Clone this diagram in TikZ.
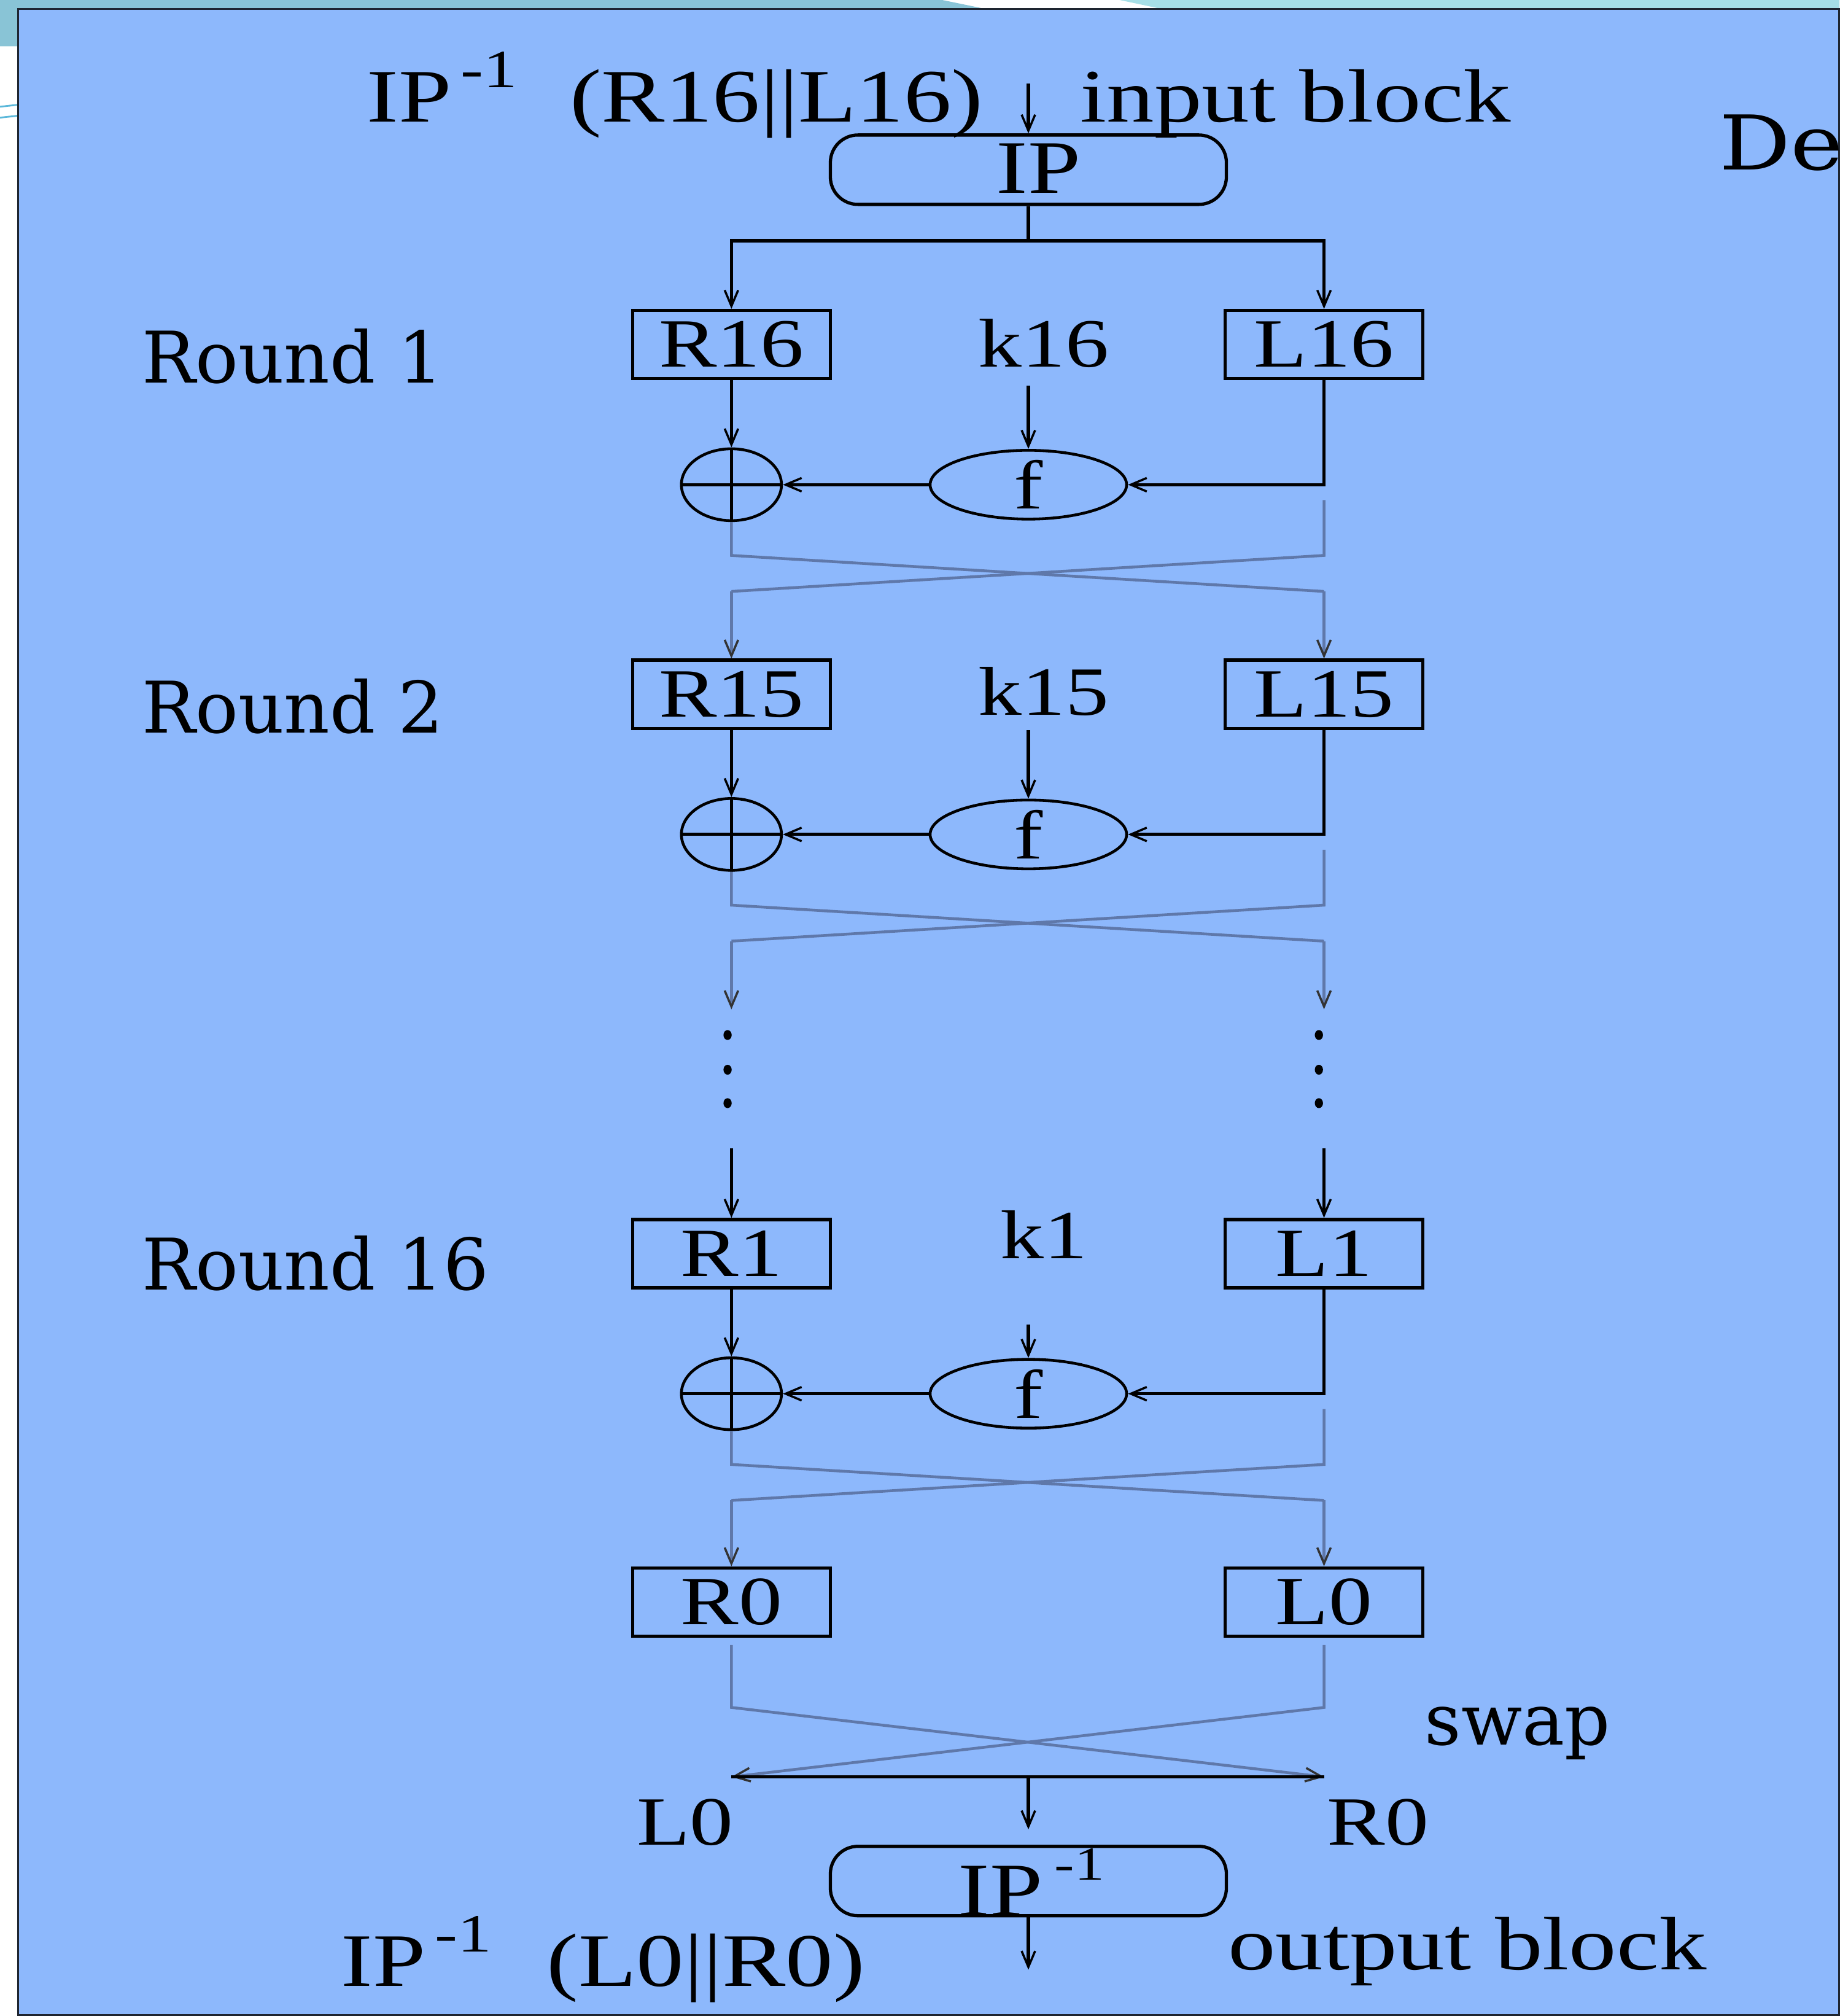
\documentclass[tikz,border=0pt]{standalone}
\usepackage{fontspec}
\usepackage{xcolor}
\usepackage{tikz}
\usetikzlibrary{calc,arrows.meta,shapes.geometric}
\newfontfamily\figf{Liberation Serif}[FakeStretch=1.26]
\newfontfamily\pptf{DejaVu Serif}
\newfontfamily\pptw{DejaVu Serif}[FakeStretch=1.18]
\definecolor{slidebg}{HTML}{8DB8FC}
\definecolor{tealc}{HTML}{89C4D6}
\definecolor{lightc}{HTML}{A6DFE7}
\definecolor{cyanln}{HTML}{5BB8DA}
\definecolor{grayc}{HTML}{5F78AA}
\definecolor{framec}{HTML}{1E2530}
\tikzset{
  ln/.style={line width=1.5pt,black},
  ar/.style={ln,-{Straight Barb[length=2.6mm,width=2.2mm,line width=1pt]}},
  gr/.style={line width=1.3pt,grayc},
  gar/.style={gr,-{Straight Barb[length=2.6mm,width=2.2mm,line width=1pt,color=black!80]}},
  box/.style={draw,line width=1.5pt,minimum width=3.22cm,minimum height=1.11cm,inner sep=0pt,font=\figf\fontsize{32}{36}\selectfont},
  ipbox/.style={draw,line width=1.5pt,rounded corners=0.45cm,minimum width=6.45cm,minimum height=1.13cm,inner sep=0pt},
  fn/.style={ellipse,draw,line width=1.3pt,minimum width=3.2cm,minimum height=1.11cm,inner sep=0pt,font=\figf\fontsize{32}{36}\selectfont},
  xr/.style={ellipse,draw,line width=1.3pt,minimum width=1.63cm,minimum height=1.17cm,inner sep=0pt},
  key/.style={inner sep=0pt,font=\figf\fontsize{32}{36}\selectfont},
  lbl/.style={anchor=base west,inner sep=0pt,font=\figf\fontsize{35}{40}\selectfont},
  sml/.style={anchor=base west,inner sep=0pt,font=\figf\fontsize{32}{36}\selectfont},
  sup/.style={anchor=base west,inner sep=0pt,font=\figf\fontsize{25}{28}\selectfont},
  rnd/.style={anchor=base west,inner sep=0pt,font=\pptf\fontsize{33}{38}\selectfont}
}
\begin{document}
\begin{tikzpicture}[x=0.020937cm,y=-0.020937cm]
\useasboundingbox (0,0) rectangle (1431,1568);
% slide background
\fill[white] (0,0) rectangle (1431,1568);
\fill[tealc] (0,0) -- (733,0) -- (767,7) -- (14,7) -- (14,36) -- (0,36) -- cycle;
\fill[lightc] (871,0) -- (1431,0) -- (1431,7) -- (904,7) -- cycle;
\draw[cyanln,line width=0.8pt] (0,83) -- (14,81.5) (0,91.5) -- (14,90);
\filldraw[fill=slidebg,draw=framec,line width=0.8pt] (14,7) rectangle (1430.5,1567.3);

% titles
\node[lbl] (tip) at (285,95) {IP};
\node[sup] (tipx) at (358,68) {-1};
\node[lbl] (tin) at (443,95) {(R16||L16)};
\node[lbl] (tblk) at (840,95) {input block};
\node[rnd,font=\pptw\fontsize{35}{40}\selectfont] (tde) at (1337,132) {De};
\node[rnd] (rd1) at (110,298) {Round 1};
\node[rnd] (rd2) at (110,570) {Round 2};
\node[rnd] (rd3) at (110,1003) {Round 16};

% initial permutation
\coordinate (ipin) at (800,65);
\node[ipbox] (ip) at (800,132) {};
\node[lbl,anchor=base] (iptx) at (808,150) {IP};
\draw[ar] (ipin) -- (ip.north);

% rounds
\foreach \n/\y/\ky/\ay/\lab in {1/268/267/300/16, 2/540/538/568/15, 3/975/960/1030/1}{
  \node[box] (r\n) at (569,\y) {R\lab};
  \node[box] (l\n) at (1030,\y) {L\lab};
  \node[key] (k\n) at (812,\ky) {k\lab};
  \node[fn] (f\n) at (800,\y+109) {f};
  \node[xr] (x\n) at (569,\y+109) {};
  \coordinate (ka\n) at (800,\ay);
  \draw[ar] (r\n) -- (x\n);
  \draw[ar] (ka\n) -- (f\n.north);
  \draw[ar] (l\n.south) |- (f\n.east);
  \draw[ar] (f\n) -- (x\n);
  \draw[ln] (x\n.north) -- (x\n.south) (x\n.west) -- (x\n.east);
  \coordinate (ca\n) at (569,\y+164);
  \coordinate (cb\n) at (1030,\y+164);
  \coordinate (ea\n) at (569,\y+192);
  \coordinate (eb\n) at (1030,\y+192);
  \draw[gr] (x\n.south) -- (ca\n) -- (eb\n);
  \draw[gr] ([yshift=-0.25cm]l\n.south |- f\n.east) -- (cb\n) -- (ea\n);
}
\draw[ar] (ip.south) -- ++(0,27) coordinate (sp) -| (r1.north);
\draw[ar] (sp) -| (l1.north);
\draw[gar] (ea1) -- (r2.north);
\draw[gar] (eb1) -- (l2.north);

% skipped rounds
\coordinate (da) at (569,785);
\coordinate (db) at (1030,785);
\coordinate (dc) at (569,893);
\coordinate (dd) at (1030,893);
\draw[gar] (ea2) -- (da);
\draw[gar] (eb2) -- (db);
\foreach \d in {805,832,858}{
  \fill (566,\d) circle[x radius=1.9pt,y radius=2.3pt];
  \fill (1026,\d) circle[x radius=1.9pt,y radius=2.3pt];
}
\draw[ar] (dc) -- (r3.north);
\draw[ar] (dd) -- (l3.north);

% final halves and swap
\node[box] (r0) at (569,1246) {R0};
\node[box] (l0) at (1030,1246) {L0};
\draw[gar] (ea3) -- (r0.north);
\draw[gar] (eb3) -- (l0.north);
\coordinate (sa) at (569,1328);
\coordinate (sb) at (1030,1328);
\coordinate (sl) at (569,1382);
\coordinate (sr) at (1030,1382);
\draw[gar] ([yshift=-0.12cm]r0.south) -- (sa) -- (sr);
\draw[gar] ([yshift=-0.12cm]l0.south) -- (sb) -- (sl);
\draw[ln] (sl) -- (sr);
\node[rnd] (tswap) at (1108,1357) {swap};
\node[sml] (tl0) at (495,1435) {L0};
\node[sml] (tr0) at (1032,1435) {R0};

% inverse permutation
\node[ipbox] (ipinv) at (800,1463) {};
\node[lbl] (ivtx) at (745,1490) {IP};
\node[sup,font=\figf\fontsize{22}{26}\selectfont] (ivx) at (820,1462) {-1};
\draw[ar,shorten >=0.25cm] (sl -| ipinv.north) -- (ipinv.north);
\coordinate (ipout) at (800,1532);
\draw[ar] (ipinv.south) -- (ipout);
\node[lbl] (bip) at (265,1545) {IP};
\node[sup] (bipx) at (338,1518) {-1};
\node[lbl] (bout) at (425,1545) {(L0||R0)};
\node[lbl] (bblk) at (955,1532) {output block};
\end{tikzpicture}
\end{document}
